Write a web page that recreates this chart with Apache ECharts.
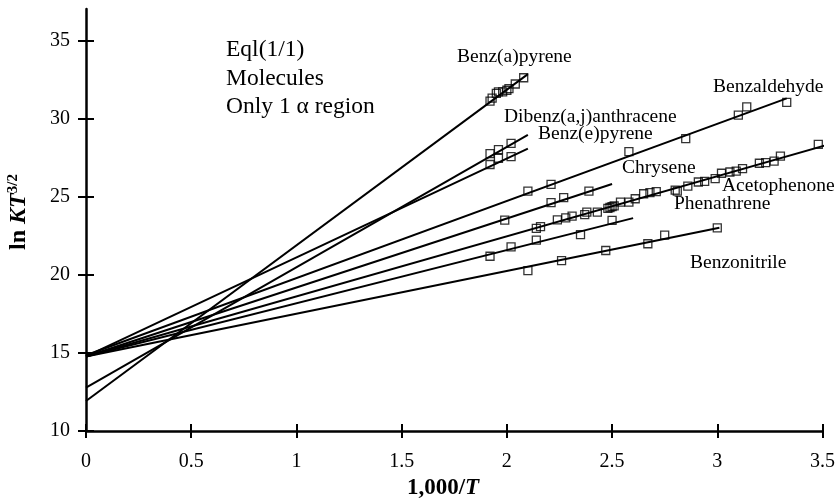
<!DOCTYPE html>
<html>
<head>
<meta charset="utf-8">
<script src="https://cdn.jsdelivr.net/npm/echarts@6/dist/echarts.min.js"></script>
<style>html,body{margin:0;padding:0;background:#fff}#c{width:838px;height:501px}</style>
</head>
<body>
<div id="c"></div>
<script>
// ---- data ----
const xTicks = [0, 0.5, 1, 1.5, 2, 2.5, 3, 3.5];
const yTicks = [10, 15, 20, 25, 30, 35];

const benzAPyrene = [[1.92,31.1],[1.93,31.3],[1.95,31.6],[1.96,31.7],[1.98,31.7],[2.00,31.8],[2.01,31.9],[2.04,32.2],[2.08,32.6]];
const benzAPyreneFit = [[0,11.92],[2.10,32.83]];

const dibenzAnthracene = [[1.92,27.75],[1.96,28.0],[2.02,28.4]];
const dibenzAnthraceneFit = [[0,12.78],[2.10,28.94]];

const benzEPyrene = [[1.92,27.05],[1.96,27.45],[2.02,27.55]];
const benzEPyreneFit = [[0,14.77],[2.10,28.07]];

const benzaldehyde = [[2.10,25.35],[2.21,25.78],[2.58,27.88],[2.85,28.71],[3.10,30.21],[3.14,30.74],[3.33,31.02]];
const benzaldehydeFit = [[0,14.85],[3.33,31.28]];

const chrysene = [[1.99,23.49],[2.21,24.61],[2.27,24.93],[2.39,25.35]];
const chryseneFit = [[0,14.77],[2.50,25.80]];

const acetophenone = [[2.14,22.96],[2.16,23.07],[2.24,23.51],[2.28,23.64],[2.31,23.75],[2.37,23.84],[2.38,24.0],[2.43,24.0],
  [2.48,24.25],[2.49,24.3],[2.50,24.35],[2.51,24.4],[2.54,24.64],[2.58,24.64],[2.61,24.86],[2.65,25.18],[2.68,25.25],[2.71,25.31],
  [2.80,25.41],[2.81,25.35],[2.86,25.67],[2.91,25.93],[2.94,25.97],[2.99,26.15],[3.02,26.49],[3.06,26.57],[3.09,26.63],[3.12,26.79],
  [3.20,27.13],[3.23,27.17],[3.27,27.27],[3.30,27.59],[3.48,28.34]];
const acetophenoneFit = [[0,14.77],[3.515,28.28]];

const phenathrene = [[1.92,21.18],[2.02,21.78],[2.14,22.21],[2.35,22.57],[2.50,23.47]];
const phenathreneFit = [[0,14.77],[2.60,23.62]];

const benzonitrile = [[2.10,20.26],[2.26,20.90],[2.47,21.55],[2.67,21.98],[2.75,22.53],[3.00,23.0]];
const benzonitrileFit = [[0,14.77],[3.01,23.0]];

const compounds = [
  ['Benz(a)pyrene', benzAPyrene, benzAPyreneFit],
  ['Dibenz(a,j)anthracene', dibenzAnthracene, dibenzAnthraceneFit],
  ['Benz(e)pyrene', benzEPyrene, benzEPyreneFit],
  ['Benzaldehyde', benzaldehyde, benzaldehydeFit],
  ['Chrysene', chrysene, chryseneFit],
  ['Acetophenone', acetophenone, acetophenoneFit],
  ['Phenathrene', phenathrene, phenathreneFit],
  ['Benzonitrile', benzonitrile, benzonitrileFit]
];

// ---- chart ----
const FONT = 'Liberation Serif';
const chart = echarts.init(document.getElementById('c'), null, {renderer: 'canvas'});

const series = [];
compounds.forEach(([name, pts, fit]) => {
  series.push({
    name: name + ' fit', type: 'line', data: fit, showSymbol: false, symbol: 'none',
    lineStyle: {color: '#000', width: 2}, silent: true, z: 2, animation: false
  });
  series.push({
    name: name, type: 'scatter', data: pts, symbol: 'rect', symbolSize: 8,
    itemStyle: {color: 'rgba(255,255,255,0)', borderColor: '#000', borderWidth: 1.3},
    z: 3, animation: false
  });
});

const axisCommonX = {
  type: 'value', min: 0, max: 3.5, interval: 0.5, position: 'bottom',
  splitLine: {show: false}
};
const axisCommonY = {
  type: 'value', min: 10, max: 37, interval: 5, position: 'left',
  splitLine: {show: false}
};

const labels = [
  ['Benz(a)pyrene', 457, 57],
  ['Dibenz(a,j)anthracene', 504, 117],
  ['Benz(e)pyrene', 538, 134],
  ['Benzaldehyde', 713, 87],
  ['Chrysene', 622, 168],
  ['Acetophenone', 722, 186],
  ['Phenathrene', 674, 204],
  ['Benzonitrile', 690, 263]
];

const graphic = labels.map(([t, x, y]) => ({
  type: 'text', x: x, y: y,
  style: {text: t, fontFamily: FONT, fontSize: 19.5, fill: '#000', verticalAlign: 'middle', align: 'left'}
}));
[['Eql(1/1)', 50], ['Molecules', 79], ['Only 1 \u03b1 region', 107]].forEach(([t, y]) => {
  graphic.push({type: 'text', x: 226, y: y,
    style: {text: t, fontFamily: FONT, fontSize: 23.5, fill: '#000', verticalAlign: 'middle', align: 'left'}});
});
// axis titles
graphic.push({
  type: 'text', x: 443, y: 488,
  style: {
    text: '{a|1,000/}{b|T}', align: 'center', verticalAlign: 'middle',
    rich: {
      a: {fontFamily: FONT, fontSize: 23, fontWeight: 'bold', fill: '#000'},
      b: {fontFamily: FONT, fontSize: 23, fontWeight: 'bold', fontStyle: 'italic', fill: '#000'}
    }
  }
});
graphic.push({
  type: 'text', x: 19, y: 212, rotation: Math.PI / 2,
  style: {
    text: '{a|ln }{b|KT}{c|3/2}', align: 'center', verticalAlign: 'middle',
    rich: {
      a: {fontFamily: FONT, fontSize: 24, fontWeight: 'bold', fill: '#000', lineHeight: 26},
      b: {fontFamily: FONT, fontSize: 24, fontWeight: 'bold', fontStyle: 'italic', fill: '#000', lineHeight: 26},
      c: {fontFamily: FONT, fontSize: 15, fontWeight: 'bold', fill: '#000', verticalAlign: 'top'}
    }
  }
});

chart.setOption({
  backgroundColor: '#fff',
  animation: false,
  grid: {left: 86, right: 15, top: 9, bottom: 70, containLabel: false},
  xAxis: [
    Object.assign({}, axisCommonX, {
      axisLine: {show: true, lineStyle: {color: '#000', width: 2.5}},
      axisTick: {show: true, inside: false, length: 7, lineStyle: {color: '#000', width: 2}, customValues: xTicks},
      axisLabel: {show: true, color: '#000', fontFamily: FONT, fontSize: 20, margin: 21, customValues: xTicks}
    }),
    Object.assign({}, axisCommonX, {
      axisLine: {show: false},
      axisTick: {show: true, inside: true, length: 7, lineStyle: {color: '#000', width: 2}, customValues: xTicks},
      axisLabel: {show: false}
    })
  ],
  yAxis: [
    Object.assign({}, axisCommonY, {
      axisLine: {show: true, lineStyle: {color: '#000', width: 2.5}},
      axisTick: {show: true, inside: false, length: 8, lineStyle: {color: '#000', width: 2}, customValues: yTicks},
      axisLabel: {show: true, color: '#000', fontFamily: FONT, fontSize: 20, margin: 16, customValues: yTicks}
    }),
    Object.assign({}, axisCommonY, {
      axisLine: {show: false},
      axisTick: {show: true, inside: true, length: 8, lineStyle: {color: '#000', width: 2}, customValues: yTicks},
      axisLabel: {show: false}
    })
  ],
  series: series,
  graphic: graphic
});
</script>
</body>
</html>
